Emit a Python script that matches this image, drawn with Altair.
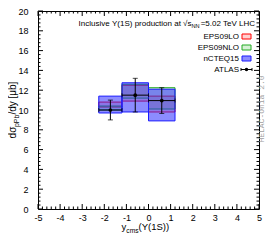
import altair as alt
import pandas as pd

FONT = "Liberation Sans"
W, H = 221, 198

# ---- data ----
bin_lo = [-2.25, -1.2, 0.0]
bin_hi = [-1.2, 0.0, 1.2]
atlas_val = [10.0, 11.5, 10.95]
atlas_err = [1.0, 1.7, 1.3]
eps09lo_lo = [10.3, 10.9, 9.8]
eps09lo_hi = [10.8, 12.5, 11.4]
eps09nlo_lo = [10.0, 11.2, 10.1]
eps09nlo_hi = [10.4, 12.6, 12.25]
ncteq15_lo = [9.7, 9.8, 8.9]
ncteq15_hi = [11.4, 12.75, 12.1]
legend_labels = ["EPS09LO", "EPS09NLO", "nCTEQ15", "ATLAS"]
x_tick_major = list(range(-5, 6))
x_tick_minor = [round(-5 + 0.2 * i, 1) for i in range(51) if i % 5]
y_tick_major = list(range(0, 21, 2))
y_tick_minor = [round(0.4 * i, 1) for i in range(51) if i % 5]

xs = alt.Scale(domain=[-5, 5], nice=False, zero=False)
ys = alt.Scale(domain=[0, 20], nice=False, zero=False)
xaxis = alt.Axis(values=x_tick_major, title=None, domain=False, ticks=False, grid=False,
                 labelFont=FONT, labelFontSize=9, labelPadding=4, labelColor="black",
                 labelFlush=False, labelOverlap=False,
                 labelExpr="datum.value < 0 ? '-' + abs(datum.value) : '' + datum.value")
yaxis = alt.Axis(values=y_tick_major, title=None, domain=False, ticks=False, grid=False,
                 labelFont=FONT, labelFontSize=9, labelPadding=10, labelColor="black",
                 labelFlush=False, labelOverlap=False)


def X(f):
    return alt.X(f, type="quantitative", scale=xs, axis=xaxis)


def Y(f):
    return alt.Y(f, type="quantitative", scale=ys, axis=yaxis)


def band(lo, hi, fill, stroke, op):
    df = pd.DataFrame({"x1": bin_lo, "x2": bin_hi, "y1": lo, "y2": hi})
    return alt.Chart(df).mark_rect(fill=fill, fillOpacity=op, stroke=stroke, strokeWidth=1).encode(
        x=X("x1"), x2="x2", y=Y("y1"), y2="y2")


def txt(s, x, y, size=8, align="left", baseline="alphabetic", angle=0, font=FONT, color="black"):
    return alt.Chart(pd.DataFrame({"t": [s]})).mark_text(
        align=align, baseline=baseline, fontSize=size, font=font, color=color, angle=angle
    ).encode(text="t:N", x=alt.value(x), y=alt.value(y))


def rule_px(x1, x2, y1, y2, color="black", width=1):
    return alt.Chart(pd.DataFrame({"a": [0]})).mark_rule(color=color, strokeWidth=width).encode(
        x=alt.value(x1), x2=alt.value(x2), y=alt.value(y1), y2=alt.value(y2))


def rect_px(x1, x2, y1, y2, fill, stroke, op):
    return alt.Chart(pd.DataFrame({"a": [0]})).mark_rect(fill=fill, fillOpacity=op, stroke=stroke, strokeWidth=1).encode(
        x=alt.value(x1), x2=alt.value(x2), y=alt.value(y1), y2=alt.value(y2))


BLUE_FILL, BLUE_OP = "#2222ff", 0.52

layers = []
# theory bands
layers.append(band(eps09lo_lo, eps09lo_hi, "#ff4444", "#ff0000", 0.25))
layers.append(band(eps09nlo_lo, eps09nlo_hi, "#33bb33", "#22aa22", 0.2))
layers.append(band(ncteq15_lo, ncteq15_hi, BLUE_FILL, "#1a1aff", BLUE_OP))

# ATLAS data
c = [(a + b) / 2 for a, b in zip(bin_lo, bin_hi)]
adf = pd.DataFrame({
    "c": c, "blo": bin_lo, "bhi": bin_hi, "v": atlas_val,
    "elo": [v - e for v, e in zip(atlas_val, atlas_err)],
    "ehi": [v + e for v, e in zip(atlas_val, atlas_err)],
})
base = alt.Chart(adf)
layers.append(base.mark_rule(color="black", strokeWidth=1).encode(x=X("c"), y=Y("elo"), y2="ehi"))
layers.append(base.mark_rule(color="black", strokeWidth=1).encode(x=X("blo"), x2="bhi", y=Y("v")))
layers.append(base.mark_tick(orient="horizontal", size=5, thickness=1, color="black").encode(x=X("c"), y=Y("elo")))
layers.append(base.mark_tick(orient="horizontal", size=5, thickness=1, color="black").encode(x=X("c"), y=Y("ehi")))
layers.append(base.mark_tick(orient="vertical", size=4, thickness=1, color="black").encode(x=X("blo"), y=Y("v")))
layers.append(base.mark_tick(orient="vertical", size=4, thickness=1, color="black").encode(x=X("bhi"), y=Y("v")))
layers.append(base.mark_circle(size=14, color="black", opacity=1).encode(x=X("c"), y=Y("v")))

# frame ticks
for vals, L in [(x_tick_major, 5), (x_tick_minor, 2.5)]:
    d = alt.Chart(pd.DataFrame({"v": vals}))
    layers.append(d.mark_rule(color="black", strokeWidth=1).encode(x=X("v"), y=alt.value(H), y2=alt.value(H - L)))
    layers.append(d.mark_rule(color="black", strokeWidth=1).encode(x=X("v"), y=alt.value(0), y2=alt.value(L)))
for vals, L in [(y_tick_major, 5), (y_tick_minor, 2.5)]:
    d = alt.Chart(pd.DataFrame({"v": vals}))
    layers.append(d.mark_rule(color="black", strokeWidth=1).encode(y=Y("v"), x=alt.value(0), x2=alt.value(L)))
    layers.append(d.mark_rule(color="black", strokeWidth=1).encode(y=Y("v"), x=alt.value(W), x2=alt.value(W - L)))

# title inside the frame
layers.append(txt("Inclusive \u03a5(1S) production at \u221as", 153.5, 15, 8, align="right"))
layers.append(txt("NN", 153.5, 17, 5.6, align="left"))
layers.append(txt("=5.02 TeV LHC", 217, 15, 8, align="right"))

# legend
leg_y = [28, 39, 50, 61]
for lab, yy in zip(legend_labels, leg_y):
    layers.append(txt(lab, 201, yy, 8, align="right"))
layers.append(rect_px(204, 213, leg_y[0] - 5, leg_y[0], "#ff4444", "#ff0000", 0.25))
layers.append(rect_px(204, 213, leg_y[1] - 5, leg_y[1], "#33bb33", "#22aa22", 0.2))
layers.append(rect_px(204, 213, leg_y[2] - 5, leg_y[2], BLUE_FILL, "#1a1aff", BLUE_OP))
ym = leg_y[3] - 2.5
layers.append(rule_px(203, 214, ym, ym))
layers.append(rule_px(203, 203, ym - 1.5, ym + 1.5))
layers.append(rule_px(214, 214, ym - 1.5, ym + 1.5))
layers.append(alt.Chart(pd.DataFrame({"a": [0]})).mark_circle(size=12, color="black", opacity=1).encode(
    x=alt.value(208.5), y=alt.value(ym)))

# HELAC-Onia tag
layers.append(txt("HELAC-Onia 2.0", 224, 98, 8, align="center", baseline="middle", angle=270,
                  font="Liberation Mono", color="#a0a0a0"))

# y title: d sigma_pPb / dy [mub]
layers.append(txt("d\u03c3", -22, 127.4, 10, align="left", angle=270))
layers.append(txt("pPb", -19.5, 116.1, 7, align="left", angle=270))
layers.append(txt("/dy [\u03bcb]", -22, 103.6, 10, align="left", angle=270))

# x title: y_cms(Upsilon(1S))
layers.append(txt("y", 83.5, 219, 9.5))
layers.append(txt("cms", 88.3, 221.5, 6.7))
layers.append(txt("(\u03a5(1S))", 100.5, 219, 9.5))

chart = alt.layer(*layers).properties(
    width=W, height=H,
    padding={"left": 30, "top": 3, "right": 7, "bottom": 24},
    autosize=alt.AutoSizeParams(type="none"),
    background="white",
).configure_view(stroke="black", strokeWidth=1)

chart.save("out.html", embed_options={"renderer": "svg", "actions": False})
